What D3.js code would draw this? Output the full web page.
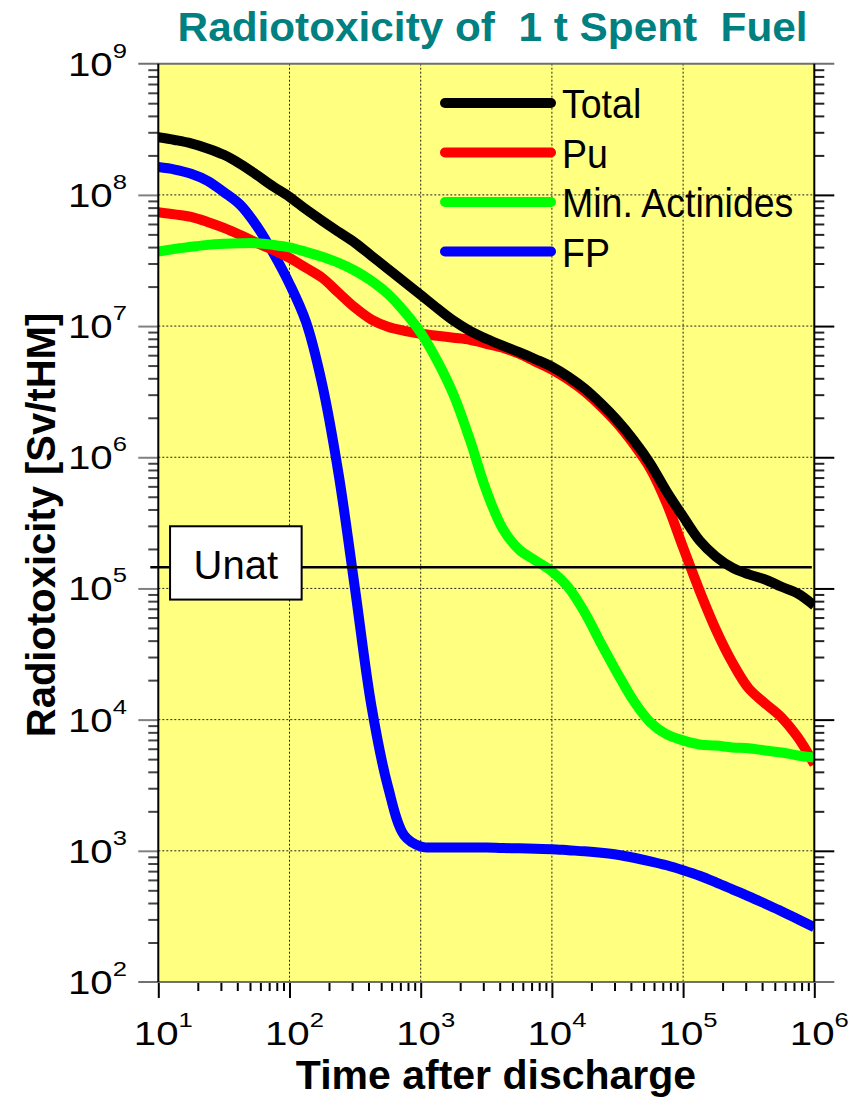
<!DOCTYPE html>
<html>
<head>
<meta charset="utf-8">
<script src="https://cdn.jsdelivr.net/npm/d3@7"></script>
<style>
  body { margin: 0; background: #fff; }
  svg { display: block; font-family: Arial, "Liberation Sans", sans-serif; }
</style>
</head>
<body>
<svg id="chart" width="853" height="1099"></svg>
<script>
// Time after discharge (years), shared by every series
const years = [10, 13.34, 17.78, 23.71, 31.62, 42.17, 56.23, 74.99, 100,
  133.4, 177.8, 237.1, 316.2, 421.7, 562.3, 749.9, 1000,
  1334, 1778, 2371, 3162, 4217, 5623, 7499, 1e4,
  1.334e4, 1.778e4, 2.371e4, 3.162e4, 4.217e4, 5.623e4, 7.499e4, 1e5,
  1.334e5, 1.778e5, 2.371e5, 3.162e5, 4.217e5, 5.623e5, 7.499e5, 1e6];

// Radiotoxicity [Sv/tHM]
const total = [2.75e8, 2.62e8, 2.47e8, 2.26e8, 2.02e8, 1.72e8, 1.42e8, 1.16e8, 9.66e7,
  7.76e7, 6.34e7, 5.22e7, 4.31e7, 3.43e7, 2.73e7, 2.17e7, 1.73e7,
  1.37e7, 1.10e7, 9.20e6, 8.00e6, 7.08e6, 6.32e6, 5.59e6, 4.90e6,
  4.11e6, 3.33e6, 2.56e6, 1.90e6, 1.34e6, 8.93e5, 5.47e5, 3.53e5,
  2.32e5, 1.75e5, 1.44e5, 1.28e5, 1.17e5, 1.03e5, 9.14e4, 7.41e4];

const pu = [7.38e7, 7.10e7, 6.79e7, 6.22e7, 5.61e7, 4.95e7, 4.31e7, 3.81e7, 3.31e7,
  2.78e7, 2.33e7, 1.79e7, 1.38e7, 1.12e7, 9.89e6, 9.20e6, 8.73e6,
  8.43e6, 8.15e6, 7.87e6, 7.33e6, 6.84e6, 6.15e6, 5.35e6, 4.65e6,
  3.90e6, 3.16e6, 2.43e6, 1.80e6, 1.25e6, 8.18e5, 4.44e5, 2.05e5,
  9.64e4, 4.86e4, 2.73e4, 1.73e4, 1.33e4, 1.04e4, 7.31e3, 4.56e3];

const minorActinides = [3.70e7, 3.88e7, 4.02e7, 4.16e7, 4.24e7, 4.28e7, 4.28e7, 4.16e7, 3.98e7,
  3.68e7, 3.37e7, 3.03e7, 2.64e7, 2.21e7, 1.76e7, 1.29e7, 8.89e6,
  5.45e6, 3.00e6, 1.36e6, 5.57e5, 2.86e5, 1.98e5, 1.63e5, 1.35e5,
  1.02e5, 6.56e4, 3.80e4, 2.25e4, 1.38e4, 9.53e3, 7.71e3, 6.95e3,
  6.47e3, 6.35e3, 6.14e3, 6.04e3, 5.82e3, 5.62e3, 5.33e3, 5.15e3];

const fissionProducts = [1.63e8, 1.56e8, 1.45e8, 1.28e8, 1.05e8, 8.39e7, 5.81e7, 3.62e7, 2.10e7,
  1.08e7, 3.57e6, 7.37e5, 9.82e4, 1.26e4, 3.10e3, 1.31e3, 1.08e3,
  1.06e3, 1.06e3, 1.06e3, 1.06e3, 1.05e3, 1.045e3, 1.035e3, 1.03e3,
  1.01e3, 991, 966, 933, 885, 832, 776, 711,
  645, 575, 509, 450, 395, 346, 301, 261];

// Natural uranium reference level
const unatLevel = 1.45e5;
const unatLabelYear = 39;

const seriesNames = ["Total", "Pu", "Min. Actinides", "FP"];
const seriesColors = ["#000000", "#ff0000", "#00ff00", "#0000ff"];
const seriesValues = [total, pu, minorActinides, fissionProducts];

const xDecades = [10, 100, 1e3, 1e4, 1e5, 1e6];
const xExponents = ["1", "2", "3", "4", "5", "6"];
const yDecades = [1e2, 1e3, 1e4, 1e5, 1e6, 1e7, 1e8, 1e9];
const yExponents = ["2", "3", "4", "5", "6", "7", "8", "9"];

const svg = d3.select("#chart");
const plotLeft = 158.3, plotRight = 814.3, plotTop = 63.7, plotBottom = 982;

const x = d3.scaleLog().domain([10, 1e6]).range([plotLeft, plotRight]);
const y = d3.scaleLog().domain([1e2, 1e9]).range([plotBottom, plotTop]);

// minor tick values (2..9 x decade)
const minorX = [], minorY = [];
xDecades.slice(0, -1).forEach(d => { for (let m = 2; m <= 9; m++) minorX.push(d * m); });
yDecades.slice(0, -1).forEach(d => { for (let m = 2; m <= 9; m++) minorY.push(d * m); });

// Title
svg.append("text")
  .attr("x", 492.6).attr("y", 41)
  .attr("text-anchor", "middle")
  .attr("font-size", 41).attr("font-weight", "bold")
  .attr("fill", "#008080")
  .attr("textLength", 630).attr("lengthAdjust", "spacingAndGlyphs")
  .style("white-space", "pre")
  .text("Radiotoxicity of  1 t Spent  Fuel");

// Plot background
svg.append("rect")
  .attr("x", plotLeft).attr("y", plotTop)
  .attr("width", plotRight - plotLeft).attr("height", plotBottom - plotTop)
  .attr("fill", "#ffff80");

svg.append("clipPath").attr("id", "plotClip")
  .append("rect")
  .attr("x", plotLeft).attr("y", plotTop)
  .attr("width", plotRight - plotLeft).attr("height", plotBottom - plotTop);

// Dotted grid at inner decades
const grid = svg.append("g")
  .attr("stroke", "#222").attr("stroke-width", 1).attr("stroke-dasharray", "2,2");
grid.selectAll(".gx").data(xDecades.slice(1, -1)).join("line")
  .attr("x1", d => x(d)).attr("x2", d => x(d))
  .attr("y1", plotTop).attr("y2", plotBottom);
grid.selectAll(".gy").data(yDecades.slice(1, -1)).join("line")
  .attr("x1", plotLeft).attr("x2", plotRight)
  .attr("y1", d => y(d)).attr("y2", d => y(d));

// Axes ticks
function styleAxis(g, color, width) {
  g.select(".domain").remove();
  g.selectAll(".tick line").attr("stroke", color).attr("stroke-width", width);
  g.selectAll(".tick text").remove();
}
svg.append("g").attr("transform", `translate(${plotLeft},0)`)
  .call(d3.axisLeft(y).tickValues(minorY).tickSize(10).tickFormat(""))
  .call(g => styleAxis(g, "#444", 2));
svg.append("g").attr("transform", `translate(${plotLeft},0)`)
  .call(d3.axisLeft(y).tickValues(yDecades.slice(1, -1)).tickSize(20).tickFormat(""))
  .call(g => styleAxis(g, "#808080", 2));
svg.append("g").attr("transform", `translate(${plotRight},0)`)
  .call(d3.axisRight(y).tickValues(minorY).tickSize(10).tickFormat(""))
  .call(g => styleAxis(g, "#222", 2));
svg.append("g").attr("transform", `translate(${plotRight},0)`)
  .call(d3.axisRight(y).tickValues(yDecades.slice(1, -1)).tickSize(20).tickFormat(""))
  .call(g => styleAxis(g, "#000", 2));
svg.append("g").attr("transform", `translate(0,${plotBottom})`)
  .call(d3.axisBottom(x).tickValues(minorX).tickSize(9).tickFormat(""))
  .call(g => styleAxis(g, "#000", 2));
svg.append("g").attr("transform", `translate(0,${plotBottom})`)
  .call(d3.axisBottom(x).tickValues(xDecades).tickSize(16).tickFormat(""))
  .call(g => styleAxis(g, "#000", 2));

// Curves
const line = d3.line()
  .x((d, i) => x(years[i]))
  .y(d => y(d))
  .curve(d3.curveCatmullRom.alpha(0.5));

const curves = svg.append("g").attr("clip-path", "url(#plotClip)");
// draw order: FP, Pu, Min. Actinides, Total on top
[3, 1, 2, 0].forEach(k => {
  curves.append("path")
    .datum(seriesValues[k])
    .attr("d", line)
    .attr("fill", "none")
    .attr("stroke", seriesColors[k])
    .attr("stroke-width", 10)
    .attr("stroke-linejoin", "round");
});

// Unat reference line and label box
svg.append("line")
  .attr("x1", plotLeft - 8).attr("x2", plotRight - 2.5)
  .attr("y1", y(unatLevel)).attr("y2", y(unatLevel))
  .attr("stroke", "#000").attr("stroke-width", 2.5);
const ux = x(unatLabelYear), uy = y(unatLevel);
svg.append("rect")
  .attr("x", ux - 65.8).attr("y", uy - 41)
  .attr("width", 131.6).attr("height", 73.3)
  .attr("fill", "#fff").attr("stroke", "#000").attr("stroke-width", 2);
svg.append("text")
  .attr("x", ux).attr("y", uy + 11.5)
  .attr("text-anchor", "middle")
  .attr("font-size", 40)
  .text("Unat");

// Frame
const frame = svg.append("g");
frame.append("line").attr("x1", plotLeft - 20).attr("x2", plotRight + 20)
  .attr("y1", plotTop).attr("y2", plotTop).attr("stroke", "#707070").attr("stroke-width", 2);
frame.append("line").attr("x1", plotLeft - 20).attr("x2", plotRight + 20)
  .attr("y1", plotBottom).attr("y2", plotBottom).attr("stroke", "#707070").attr("stroke-width", 2);
frame.append("line").attr("x1", plotLeft).attr("x2", plotLeft)
  .attr("y1", plotTop).attr("y2", plotBottom).attr("stroke", "#000").attr("stroke-width", 2);
frame.append("line").attr("x1", plotRight).attr("x2", plotRight)
  .attr("y1", plotTop).attr("y2", plotBottom).attr("stroke", "#000").attr("stroke-width", 2);

// Legend
const legend = svg.append("g");
seriesNames.forEach((name, i) => {
  const ly = 103 + i * 49.5;
  legend.append("line")
    .attr("x1", 445).attr("x2", 551)
    .attr("y1", ly).attr("y2", ly)
    .attr("stroke", seriesColors[i]).attr("stroke-width", 10)
    .attr("stroke-linecap", "round");
  legend.append("g").attr("transform", `translate(562,${ly + 15}) scale(0.915,1)`)
    .append("text")
    .attr("font-size", 41)
    .text(name);
});

// Power-of-ten tick labels
function powerLabel(parent, px, py, exp, anchor) {
  const t = parent.append("g")
    .attr("transform", `translate(${px},${py}) scale(1.22,1)`)
    .append("text")
    .attr("text-anchor", anchor)
    .attr("font-size", 33);
  t.append("tspan").text("10");
  t.append("tspan").attr("dy", -18).attr("font-size", 21).text(exp);
}
const labels = svg.append("g");
yDecades.forEach((d, i) => powerLabel(labels, 127, y(d) + 12, yExponents[i], "end"));
xDecades.forEach((d, i) => powerLabel(labels, x(d) + 5, plotBottom + 63, xExponents[i], "middle"));

// Axis titles
svg.append("text")
  .attr("transform", `translate(55,525) rotate(-90)`)
  .attr("text-anchor", "middle")
  .attr("font-size", 40).attr("font-weight", "bold")
  .text("Radiotoxicity [Sv/tHM]");
svg.append("text")
  .attr("x", 496).attr("y", 1089)
  .attr("text-anchor", "middle")
  .attr("font-size", 41).attr("font-weight", "bold")
  .text("Time after discharge");
</script>
</body>
</html>
